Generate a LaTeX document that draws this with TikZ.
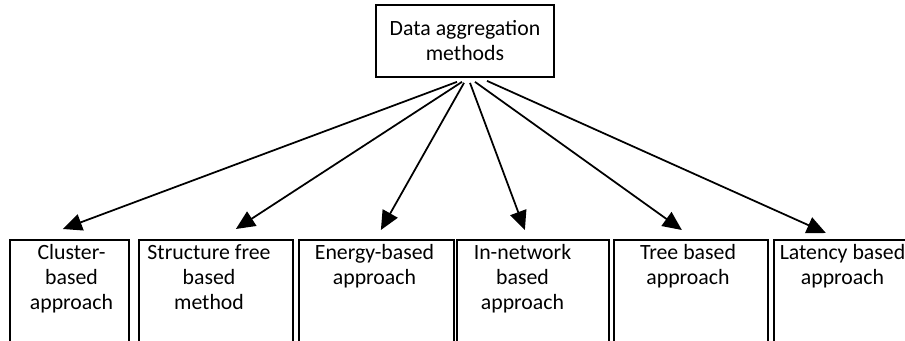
\documentclass[tikz,border=0pt]{standalone}
\usepackage{fontspec}
\setmainfont{Carlito}
\usetikzlibrary{arrows.meta}
\usetikzlibrary{positioning}
\tikzset{
  arrow/.style = {
    -{Triangle[length=0.38cm,width=0.34cm]},
    line width=1pt
  },
  root/.style = {
    rectangle, draw, line width=1pt, align=center,
    minimum width=3.56cm, minimum height=1.44cm, inner sep=0pt
  },
  method/.style = {
    rectangle, draw, line width=1pt, anchor=north west,
    minimum height=2.04cm, inner sep=0pt
  },
  methodtext/.style = {
    anchor=north, align=center, inner sep=0pt
  },
}

\begin{document}
\begin{tikzpicture}[font=\fontsize{12.4}{14.2}\selectfont]
  \useasboundingbox (0,0) rectangle (18.1,-6.82);

  \node [root] (aggregation) at (9.3,-0.82) {Data aggregation\\methods};

  % boxes of the methods
  \node [method,minimum width=2.38cm] (cluster) at (0.18,-4.78) {};
  \node [method,minimum width=3.08cm] (structure) at (2.76,-4.78) {};
  \node [method,minimum width=3.10cm] (energy) at (5.96,-4.78) {};
  \node [method,minimum width=3.04cm] (innetwork) at (9.12,-4.78) {};
  \node [method,minimum width=3.08cm] (tree) at (12.26,-4.78) {};
  \node [method,minimum width=2.90cm] (latency) at (15.46,-4.78) {};

  \node [methodtext] (cluster-text) at (1.43,-4.88) {Cluster-\\based\\approach};
  \node [methodtext] (structure-text) at (4.18,-4.88) {Structure free\\based\\method};
  \node [methodtext] (energy-text) at (7.49,-4.88) {Energy-based\\approach};
  \node [methodtext] (innetwork-text) at (10.45,-4.88) {In-network\\based\\approach};
  \node [methodtext] (tree-text) at (13.76,-4.88) {Tree based\\approach};
  \node [methodtext] (latency-text) at (16.85,-4.88) {Latency based\\approach};

  \draw [arrow] ([xshift=-0.16cm,yshift=-0.08cm]aggregation.south) -- ([xshift=-0.13cm,yshift=0.2cm]cluster.north);
  \draw [arrow] ([xshift=-0.06cm,yshift=-0.08cm]aggregation.south) -- ([xshift=0.4cm,yshift=0.2cm]structure.north);
  \draw [arrow] ([xshift=-0.02cm,yshift=-0.1cm]aggregation.south) -- ([xshift=0.09cm,yshift=0.18cm]energy.north);
  \draw [arrow] ([xshift=0.10cm,yshift=-0.1cm]aggregation.south) -- ([xshift=-0.16cm,yshift=0.18cm]innetwork.north);
  \draw [arrow] ([xshift=0.20cm,yshift=-0.08cm]aggregation.south) -- ([xshift=-0.18cm,yshift=0.18cm]tree.north);
  \draw [arrow] ([xshift=0.44cm,yshift=-0.06cm]aggregation.south) -- ([xshift=-0.41cm,yshift=0.12cm]latency.north);
\end{tikzpicture}
\end{document}
